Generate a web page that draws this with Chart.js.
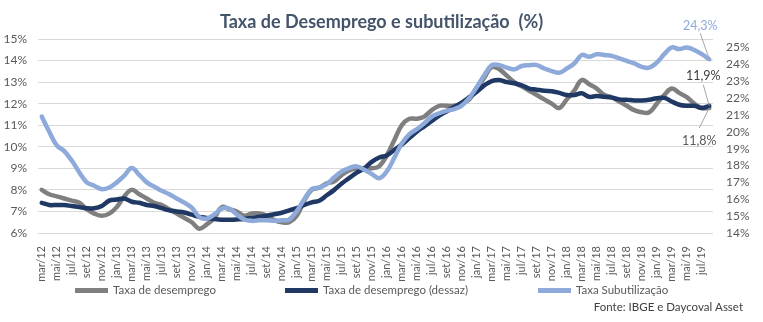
<!DOCTYPE html>
<html>
<head>
<meta charset="utf-8">
<script src="https://cdn.jsdelivr.net/npm/chart.js@4.4.0/dist/chart.umd.min.js"></script>
<style>
  html, body { margin: 0; padding: 0; background: #fff; }
</style>
</head>
<body>
<canvas id="myChart" width="763" height="322"></canvas>
<script>
const labels = [
  "mar/12","abr/12","mai/12","jun/12","jul/12","ago/12","set/12","out/12","nov/12","dez/12",
  "jan/13","fev/13","mar/13","abr/13","mai/13","jun/13","jul/13","ago/13","set/13","out/13","nov/13","dez/13",
  "jan/14","fev/14","mar/14","abr/14","mai/14","jun/14","jul/14","ago/14","set/14","out/14","nov/14","dez/14",
  "jan/15","fev/15","mar/15","abr/15","mai/15","jun/15","jul/15","ago/15","set/15","out/15","nov/15","dez/15",
  "jan/16","fev/16","mar/16","abr/16","mai/16","jun/16","jul/16","ago/16","set/16","out/16","nov/16","dez/16",
  "jan/17","fev/17","mar/17","abr/17","mai/17","jun/17","jul/17","ago/17","set/17","out/17","nov/17","dez/17",
  "jan/18","fev/18","mar/18","abr/18","mai/18","jun/18","jul/18","ago/18","set/18","out/18","nov/18","dez/18",
  "jan/19","fev/19","mar/19","abr/19","mai/19","jun/19","jul/19","ago/19"
];

// taxa de desemprego (%), eixo esquerdo
const desemprego = [
  8.0, 7.8, 7.7, 7.6, 7.5, 7.4, 7.1, 6.9, 6.8, 6.9,
  7.2, 7.7, 8.0, 7.8, 7.6, 7.4, 7.3, 7.1, 6.9, 6.7,
  6.5, 6.2, 6.4, 6.7, 7.2, 7.1, 7.0, 6.8, 6.9, 6.9,
  6.8, 6.6, 6.5, 6.5, 6.8, 7.5, 8.0, 8.1, 8.3, 8.4,
  8.7, 8.9, 9.0, 9.0, 9.0, 9.1, 9.6, 10.3, 11.0, 11.3,
  11.3, 11.4, 11.7, 11.9, 11.9, 11.9, 12.0, 12.2, 12.7, 13.2,
  13.7, 13.6, 13.3, 13.0, 12.8, 12.6, 12.4, 12.2, 12.0, 11.8,
  12.2, 12.6, 13.1, 12.9, 12.7, 12.4, 12.3, 12.1, 11.9, 11.7,
  11.6, 11.6, 12.0, 12.4, 12.7, 12.5, 12.3, 12.0, 11.8, 11.8
];

// taxa de desemprego dessazonalizada (%), eixo esquerdo
const dessaz = [
  7.4, 7.3, 7.3, 7.3, 7.25, 7.2, 7.15, 7.15, 7.25, 7.5,
  7.55, 7.6, 7.45, 7.4, 7.3, 7.25, 7.15, 7.05, 7.0, 6.95,
  6.85, 6.75, 6.7, 6.65, 6.62, 6.62, 6.63, 6.65, 6.7, 6.75,
  6.8, 6.87, 6.94, 7.05, 7.15, 7.3, 7.42, 7.5, 7.75, 8.0,
  8.3, 8.55, 8.8, 9.0, 9.3, 9.5, 9.6, 9.85, 10.1, 10.4,
  10.7, 10.95, 11.2, 11.45, 11.65, 11.85, 12.05, 12.3, 12.55, 12.85,
  13.05, 13.1, 13.0, 12.95, 12.85, 12.7, 12.65, 12.6, 12.58, 12.5,
  12.4, 12.4, 12.48, 12.32, 12.35, 12.32, 12.28, 12.2, 12.18, 12.15,
  12.15, 12.18, 12.25, 12.27, 12.1, 11.95, 11.9, 11.9, 11.8, 11.9
];

// taxa de subutilização (%), eixo direito
const subutilizacao = [
  20.9, 20.0, 19.2, 18.85, 18.3, 17.6, 17.0, 16.8, 16.6, 16.7,
  17.0, 17.4, 17.85, 17.45, 17.0, 16.75, 16.5, 16.3, 16.05, 15.8,
  15.5, 14.95, 14.85, 15.1, 15.45, 15.45, 15.1, 14.8, 14.72, 14.75,
  14.75, 14.72, 14.75, 14.8, 15.3, 16.0, 16.6, 16.7, 16.9, 17.3,
  17.65, 17.85, 17.95, 17.75, 17.5, 17.25, 17.65, 18.45, 19.3, 19.85,
  20.15, 20.5, 20.9, 21.1, 21.25, 21.35, 21.55, 22.0, 22.65, 23.35,
  23.95, 23.95, 23.8, 23.7, 23.9, 23.95, 23.95, 23.75, 23.6, 23.5,
  23.75, 24.05, 24.55, 24.45, 24.6, 24.55, 24.5, 24.35, 24.2, 24.05,
  23.85, 23.8, 24.1, 24.6, 25.0, 24.9, 25.0, 24.85, 24.6, 24.3
];

const leftTicks = [6, 7, 8, 9, 10, 11, 12, 13, 14, 15];
const rightTicks = [14, 15, 16, 17, 18, 19, 20, 21, 22, 23, 24, 25];

const FONT = "Lato, 'Liberation Sans', sans-serif";
const pct = v => v.toFixed(1).replace('.', ',') + '%';

// legenda, fonte e rótulos do último ponto
const extras = {
  id: 'extras',
  afterDraw(chart) {
    const ctx = chart.ctx;
    ctx.save();
    // legenda
    const legendX = [75, 285, 538];
    chart.data.datasets.forEach((ds, i) => {
      ctx.fillStyle = ds.borderColor;
      ctx.fillRect(legendX[i], 288, 33, 5);
      ctx.fillStyle = '#595959';
      ctx.font = '11.5px ' + FONT;
      ctx.textAlign = 'left';
      ctx.textBaseline = 'middle';
      ctx.fillText(ds.label, legendX[i] + 38, 290.5);
    });
    ctx.fillStyle = '#404040';
    ctx.font = '11.5px ' + FONT;
    ctx.textAlign = 'right';
    ctx.fillText('Fonte: IBGE e Daycoval Asset', 743, 307);

    // rótulos
    const last = i => {
      const m = chart.getDatasetMeta(i);
      return m.data[m.data.length - 1];
    };
    const notes = [
      { ds: 2, val: subutilizacao[subutilizacao.length - 1], color: '#8eaadb', dx: -9, dy: -33, ly: -26 },
      { ds: 1, val: dessaz[dessaz.length - 1], color: '#404040', dx: -6, dy: -30, ly: -21 },
      { ds: 0, val: desemprego[desemprego.length - 1], color: '#595959', dx: -10, dy: 33, ly: 20 }
    ];
    ctx.font = '12.5px ' + FONT;
    ctx.textAlign = 'center';
    ctx.textBaseline = 'middle';
    notes.forEach(n => {
      const p = last(n.ds);
      ctx.strokeStyle = '#a6a6a6';
      ctx.lineWidth = 1;
      ctx.beginPath();
      ctx.moveTo(p.x + n.dx, p.y + n.ly);
      ctx.lineTo(p.x, p.y);
      ctx.stroke();
      ctx.fillStyle = n.color;
      ctx.fillText(pct(n.val), p.x + n.dx, p.y + n.dy);
    });
    ctx.restore();
  }
};

const ctx = document.getElementById('myChart').getContext('2d');
new Chart(ctx, {
  type: 'line',
  data: {
    labels: labels,
    datasets: [{
      label: 'Taxa de desemprego',
      data: desemprego,
      borderColor: '#7f7f7f',
      yAxisID: 'y',
      order: 3
    }, {
      label: 'Taxa de desemprego (dessaz)',
      data: dessaz,
      borderColor: '#1f3864',
      yAxisID: 'y',
      order: 2
    }, {
      label: 'Taxa Subutilização',
      data: subutilizacao,
      borderColor: '#8eaadb',
      yAxisID: 'y1',
      order: 1
    }]
  },
  options: {
    responsive: false,
    animation: false,
    devicePixelRatio: 1,
    layout: { padding: { left: 0, right: 0, top: 0, bottom: 37 } },
    elements: {
      line: { borderWidth: 4.5, tension: 0.4, fill: false, borderCapStyle: 'round', borderJoinStyle: 'round' },
      point: { radius: 0 }
    },
    plugins: {
      legend: { display: false },
      tooltip: { enabled: false },
      title: {
        display: true,
        text: 'Taxa de Desemprego e subutilização  (%)',
        color: '#44546a',
        font: { family: FONT, size: 18, weight: 'bold' },
        padding: { top: 11, bottom: 6.4 }
      }
    },
    scales: {
      x: {
        type: 'category',
        offset: true,
        grid: { display: false },
        border: { display: false },
        ticks: {
          autoSkip: false,
          maxRotation: 90,
          minRotation: 90,
          padding: 5,
          color: '#595959',
          font: { family: FONT, size: 11 },
          callback: (v, i) => (i % 2 === 0 ? labels[i] : '')
        },
        afterFit: s => { s.height = 52; }
      },
      y: {
        position: 'left',
        min: 6,
        max: 15,
        afterBuildTicks: s => { s.ticks = leftTicks.map(v => ({ value: v })); },
        grid: { color: '#d9d9d9', lineWidth: 1, drawTicks: false },
        border: { display: false },
        ticks: {
          padding: 11,
          color: '#595959',
          font: { family: FONT, size: 12 },
          callback: v => v + '%'
        },
        afterFit: s => { s.width = 38; }
      },
      y1: {
        position: 'right',
        min: 14,
        max: 25.5,
        afterBuildTicks: s => { s.ticks = rightTicks.map(v => ({ value: v })); },
        grid: { display: false, drawTicks: false },
        border: { display: false },
        ticks: {
          padding: 13,
          color: '#595959',
          font: { family: FONT, size: 12 },
          callback: v => v + '%'
        },
        afterFit: s => { s.width = 50; }
      }
    }
  },
  plugins: [extras]
});
</script>
</body>
</html>
